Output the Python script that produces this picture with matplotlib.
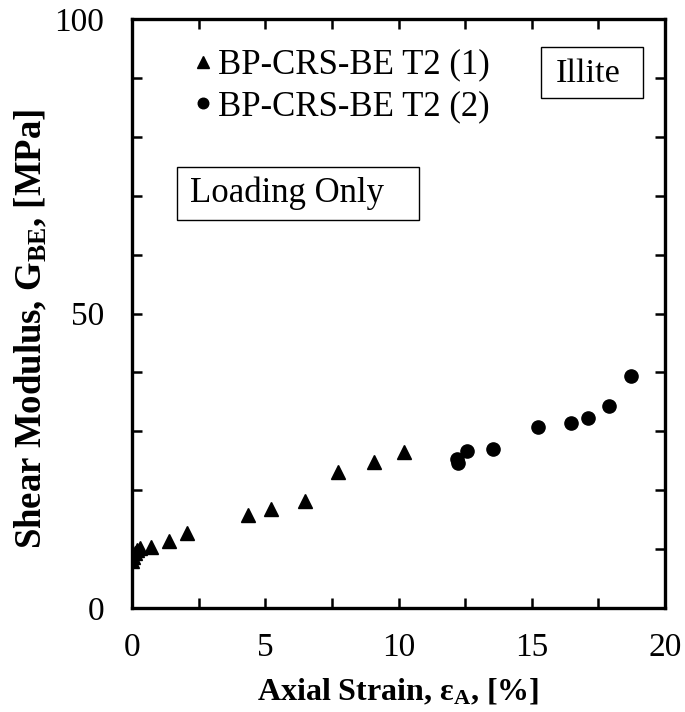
import matplotlib
matplotlib.use("Agg")
import matplotlib.pyplot as plt
from matplotlib.ticker import MultipleLocator
from matplotlib.patches import Rectangle

plt.rcParams['font.family'] = ['Liberation Serif', 'DejaVu Serif']
plt.rcParams['mathtext.fontset'] = 'custom'
plt.rcParams['mathtext.rm'] = 'Liberation Serif'
plt.rcParams['mathtext.bf'] = 'Liberation Serif:bold'
plt.rcParams['mathtext.it'] = 'Liberation Serif:italic'

# Series 1: BP-CRS-BE T2 (1)
strain_1 = [0.0, 0.05, 0.1, 0.2, 0.3, 0.7, 1.4, 2.05, 4.34, 5.2, 6.5, 7.74, 9.08, 10.2]
modulus_1 = [8.0, 8.7, 9.3, 9.8, 10.2, 10.4, 11.4, 12.7, 15.8, 16.8, 18.2, 23.1, 24.8, 26.5]

# Series 2: BP-CRS-BE T2 (2)
strain_2 = [12.24, 12.2, 12.56, 13.56, 15.25, 16.46, 17.1, 17.9, 18.72]
modulus_2 = [24.7, 25.3, 26.7, 27.0, 30.7, 31.4, 32.2, 34.3, 39.4]

labels = ['BP-CRS-BE T2 (1)', 'BP-CRS-BE T2 (2)']
x_ticks = [0, 5, 10, 15, 20]
x_ticklabels = ['0', '5', '10', '15', '20']
y_ticks = [0, 50, 100]
y_ticklabels = ['0', '50', '100']

W, H = 685, 712
fig = plt.figure(figsize=(W / 100, H / 100), dpi=100)
fig.subplots_adjust(left=132 / W, right=665 / W, top=1 - 19 / H, bottom=1 - 608 / H)
ax = fig.add_subplot(111)

ax.plot(strain_1, modulus_1, linestyle='none', marker='^', color='black', markersize=10.5, label=labels[0])
ax.plot(strain_2, modulus_2, linestyle='none', marker='o', color='black', markersize=9.5, label=labels[1])

ax.set_xlim(0, 20)
ax.set_ylim(0, 100)
ax.set_xticks(x_ticks)
ax.set_xticklabels(x_ticklabels)
ax.set_yticks(y_ticks)
ax.set_yticklabels(y_ticklabels)
ax.xaxis.set_minor_locator(MultipleLocator(2.5))
ax.yaxis.set_minor_locator(MultipleLocator(10))

for s in ax.spines.values():
    s.set_linewidth(2.4)

ax.tick_params(which='both', direction='in', top=True, right=True, width=1.8, length=7)
ax.tick_params(axis='x', which='major', labelsize=24, pad=18)
ax.tick_params(axis='y', which='major', labelsize=24, pad=20)

ax.set_xlabel('Axial Strain, ε$_\\mathbf{A}$, [%]', fontsize=23, fontweight='bold', labelpad=10)
ax.set_ylabel('Shear Modulus, G$_\\mathbf{BE}$, [MPa]', fontsize=26.5, fontweight='bold')
ax.yaxis.set_label_coords(-0.155, 0.473)

leg = ax.legend(loc='upper left', bbox_to_anchor=(0.094, 0.973), frameon=False, fontsize=25,
                handlelength=0.4, handletextpad=0.23, labelspacing=0.25, markerscale=0.8,
                borderaxespad=0.0)

# "Loading Only" annotation box
ax.add_patch(Rectangle((0.0844, 0.6587), 0.4541, 0.0900, transform=ax.transAxes,
                       facecolor='white', edgecolor='black', linewidth=1.0, zorder=3))
ax.text(0.1088, 0.7037, 'Loading Only', transform=ax.transAxes, fontsize=25,
        va='center', ha='left', zorder=4)

# "Illite" annotation box
ax.add_patch(Rectangle((0.767, 0.866), 0.1914, 0.0866, transform=ax.transAxes,
                       facecolor='white', edgecolor='black', linewidth=1.0, zorder=3))
ax.text(0.855, 0.9075, 'Illite', transform=ax.transAxes, fontsize=24.7,
        va='center', ha='center', zorder=4)

fig.savefig('out.png', dpi=100)
